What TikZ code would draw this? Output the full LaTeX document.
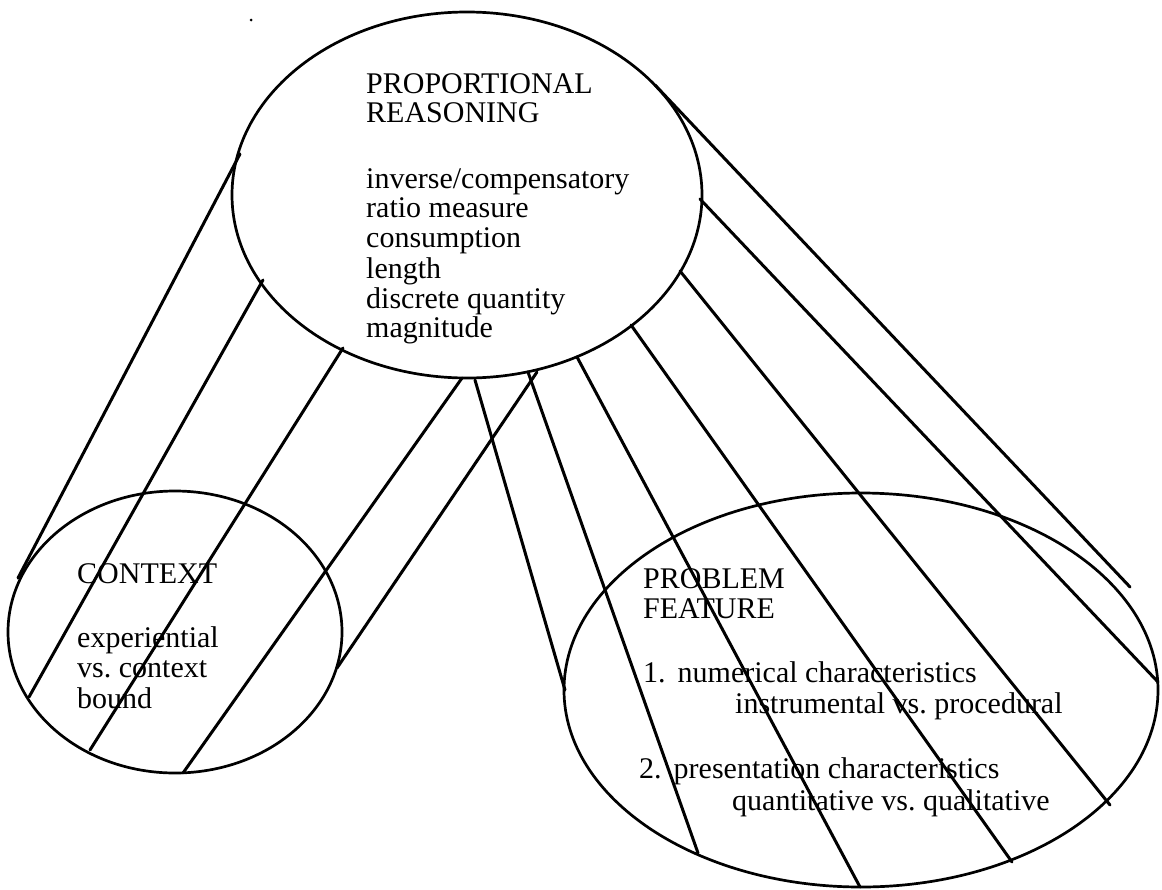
\documentclass[tikz,border=0pt]{standalone}
\usepackage{fontspec}
\setmainfont{Liberation Serif}
\begin{document}
\begin{tikzpicture}[x=1pt,y=-1pt,
  outline/.style={line width=2.7pt},
  ray/.style={line width=3pt, line cap=round},
  lbl/.style={anchor=base west, inner sep=0pt, font=\fontsize{30}{30}\selectfont}]
\useasboundingbox (0,0) rectangle (1162,889);

% ellipses
\draw[outline] (467,195) ellipse [x radius=235pt, y radius=183pt];
\draw[outline] (175,632) ellipse [x radius=167pt, y radius=141pt];
\draw[outline] (861,690) ellipse [x radius=297pt, y radius=197pt];

% end points of the projection lines
\coordinate (p1) at (240,154); \coordinate (c1) at (18,578);
\coordinate (p2) at (263,280); \coordinate (c2) at (29,697);
\coordinate (p3) at (343,348); \coordinate (c3) at (90,750);
\coordinate (p4) at (462,378); \coordinate (c4) at (183,773);
\coordinate (p5) at (537,372); \coordinate (c5) at (337,668);

\coordinate (q1) at (475,380); \coordinate (f1) at (565,690);
\coordinate (q2) at (528,372); \coordinate (f2) at (698,853);
\coordinate (q3) at (577,357); \coordinate (f3) at (860,887);
\coordinate (q4) at (631,325); \coordinate (f4) at (1012,862);
\coordinate (q5) at (680,271); \coordinate (f5) at (1110,805);
\coordinate (q6) at (700,199); \coordinate (f6) at (1158,682);
\coordinate (q7) at (655,85);  \coordinate (f7) at (1130,587);

\foreach \i in {1,...,5} \draw[ray] (p\i) -- (c\i);
\foreach \i in {1,...,7} \draw[ray] (q\i) -- (f\i);

% speck
\fill (251,20) circle (1.5pt);

% texts
\node[lbl] (t1) at (366,93)  {PROPORTIONAL};
\node[lbl] (t2) at (366,122) {REASONING};
\node[lbl] (t3) at (366,188) {inverse/compensatory};
\node[lbl] (t4) at (366,217) {ratio measure};
\node[lbl] (t5) at (366,247) {consumption};
\node[lbl] (t6) at (366,278) {length};
\node[lbl] (t7) at (366,308) {discrete quantity};
\node[lbl] (t8) at (366,337) {magnitude};

\node[lbl] (k1) at (77,583) {CONTEXT};
\node[lbl] (k2) at (77,647) {experiential};
\node[lbl] (k3) at (77,677) {vs.\ context};
\node[lbl] (k4) at (77,708) {bound};

\node[lbl] (r1) at (643,588) {PROBLEM};
\node[lbl] (r2) at (643,618) {FEATURE};
\node[lbl] (r3) at (643,682) {1.\hspace{12pt}numerical characteristics};
\node[lbl] (r4) at (735,713) {instrumental vs.\ procedural};
\node[lbl] (r5) at (639,778) {2.\hspace{12pt}presentation characteristics};
\node[lbl] (r6) at (732,810) {quantitative vs.\ qualitative};
\end{tikzpicture}
\end{document}
